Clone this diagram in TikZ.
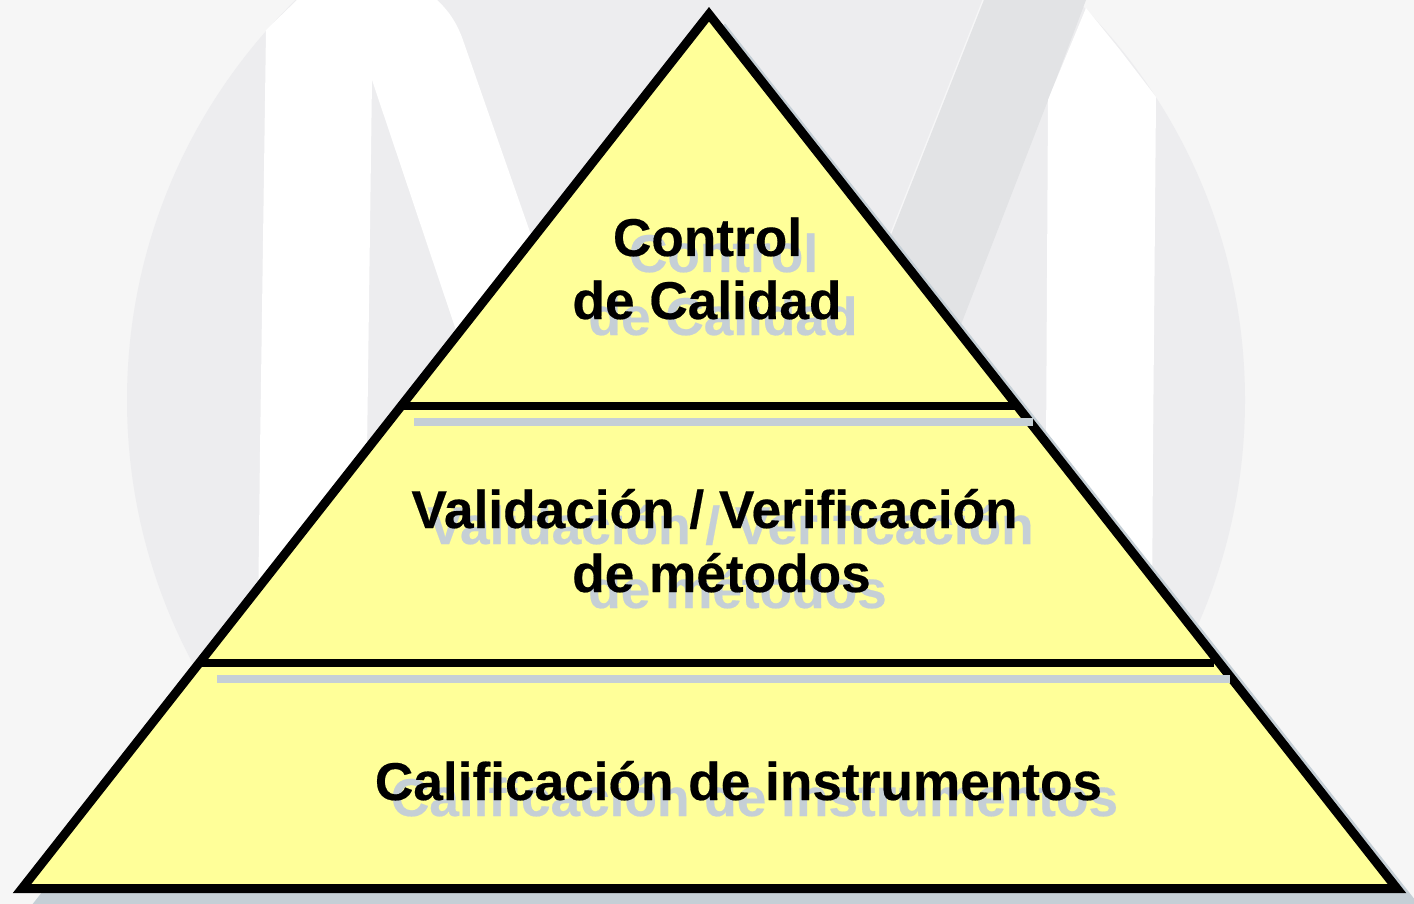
\documentclass[tikz,border=0pt]{standalone}
\usepackage{fontspec}
\setmainfont[BoldFeatures={FakeBold=0.35}]{Liberation Sans}
\definecolor{pagebg}{HTML}{F6F6F6}
\definecolor{discbg}{HTML}{EDEDEF}
\definecolor{bandbg}{HTML}{E2E3E5}
\definecolor{pyrfill}{HTML}{FFFF99}
\definecolor{shade}{HTML}{C5CFD6}
\tikzset{
  mark shape/.style={fill=white,draw=none},
  rule line/.style={draw=black,line width=8pt,line cap=butt},
  rule shade/.style={draw=shade,line width=8pt,line cap=butt},
  main label/.style={anchor=base,inner sep=0pt,font=\fontsize{53.2}{60}\selectfont\bfseries,text=black},
  shade label/.style={anchor=base,inner sep=0pt,font=\fontsize{53.2}{60}\selectfont\bfseries,text=shade},
}
\begin{document}
\begin{tikzpicture}[x=1pt,y=-1pt]
\useasboundingbox (0,0) rectangle (1414,904);
\fill[pagebg] (0,0) rectangle (1414,904);
% watermark
\begin{scope}
\clip (0,0) rectangle (1414,904);
\fill[discbg] (686,400) circle[radius=559];
\fill[bandbg] (984,0) -- (1086,0) -- (1052,90) -- (955,340) -- (880,270) -- (892,233) -- cycle;
\draw[white!50!discbg,line width=1.2pt] (983,0) -- (891,233);
\fill[mark shape] (266,30) -- (297,0) -- (437,0) .. controls (450,12) and (458,25) .. (464,43) -- (545,275) -- (470,372) -- (372,80) -- (367,452) -- (365,620) -- (258,620) -- (260,452) -- cycle;
\fill[mark shape] (1048,100) -- (1052,90) -- (1086,8) -- (1120,50) -- (1156,97) -- (1153,452) -- (1152,620) -- (1046,620) -- (1046,452) -- cycle;
\end{scope}
% pyramid
\coordinate (apex) at (709,14.3);
\coordinate (bl) at (22,888.6);
\coordinate (br) at (1397,888.6);
\coordinate (sapex) at (725,30);
\coordinate (sbl) at (37,905);
\coordinate (sbr) at (1414,905);
\coordinate (l1a) at (400,405.7);
\coordinate (l1b) at (1018,405.7);
\coordinate (l2a) at (200,662.7);
\coordinate (l2b) at (1214,662.7);
\coordinate (s1a) at (414,421.7);
\coordinate (s1b) at (1033,421.7);
\coordinate (s2a) at (217,678.7);
\coordinate (s2b) at (1230,678.7);
\begin{scope}
\clip (0,0) rectangle (1414,904);
\draw[fill=shade,draw=shade,line width=8pt,line join=miter] (sapex) -- (sbl) -- (sbr) -- cycle;
\end{scope}
\draw[fill=pyrfill,draw=black,line width=9pt,line join=miter] (apex) -- (bl) -- (br) -- cycle;
\draw[rule shade] (s1a) -- (s1b);
\draw[rule shade] (s2a) -- (s2b);
\draw[rule line] (l1a) -- (l1b);
\draw[rule line] (l2a) -- (l2b);
% shadow texts
\node[shade label] (s1) at (723.5,272) {Control};
\node[shade label] (s2) at (723,335) {de Calidad};
\node[shade label] (s3) at (730.5,544) {Validación / Verificación};
\node[shade label] (s4) at (737.5,608) {de métodos};
\node[shade label] (s5) at (754.5,816) {Calificación de instrumentos};
% texts
\node[main label] (t1) at (707.5,256) {Control};
\node[main label] (t2) at (707,319) {de Calidad};
\node[main label] (t3) at (714.5,528) {Validación / Verificación};
\node[main label] (t4) at (721.5,592) {de métodos};
\node[main label] (t5) at (738.5,800) {Calificación de instrumentos};
\end{tikzpicture}
\end{document}
